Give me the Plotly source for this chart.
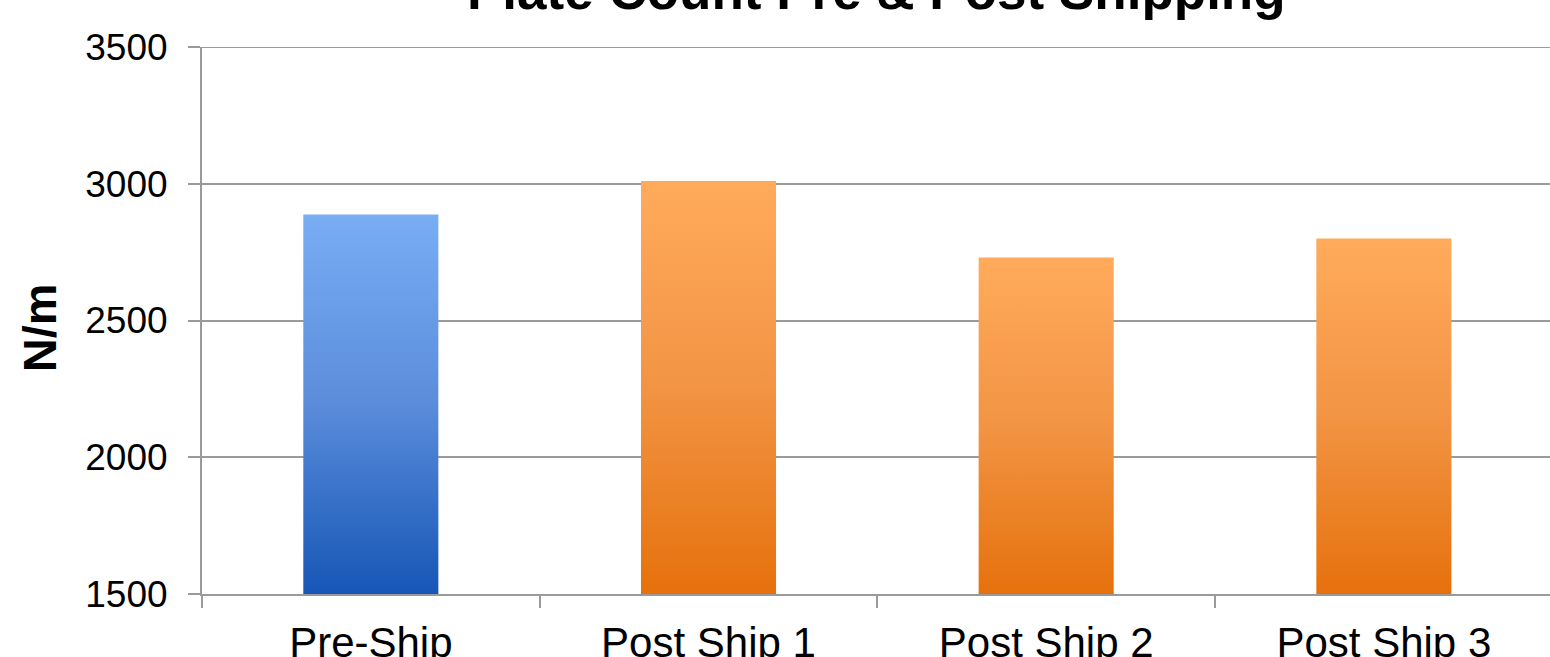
import plotly.graph_objects as go

# Plate count measurements before and after shipping
categories = ["Pre-Ship", "Post Ship 1", "Post Ship 2", "Post Ship 3"]
values = [2888, 3010, 2730, 2800]
y_ticks = [1500, 2000, 2500, 3000, 3500]

title_text = "Plate Count Pre & Post Shipping"
y_title = "N/m"

# vertical colour ramps (bottom -> top)
blue_ramp = [[0.0, "#1656b6"], [0.5, "#5a8cdb"], [1.0, "#78aef4"]]
orange_ramp = [[0.0, "#e6710c"], [0.5, "#f29444"], [1.0, "#ffab5b"]]
ramps = [blue_ramp, orange_ramp, orange_ramp, orange_ramp]

FONT = "Arial, 'Liberation Sans', sans-serif"
GRID = "#9a9a9a"
BAR_WIDTH = 0.4
Y_MIN, Y_MAX = y_ticks[0], y_ticks[-1]

fig = go.Figure()

for i, (cat, val, ramp) in enumerate(zip(categories, values, ramps)):
    left, right = i - BAR_WIDTH / 2, i + BAR_WIDTH / 2
    fig.add_trace(go.Scatter(
        x=[left, right, right, left, left],
        y=[Y_MIN, Y_MIN, val, val, Y_MIN],
        mode="lines",
        fill="toself",
        line=dict(width=0, color="rgba(0,0,0,0)"),
        fillgradient=dict(type="vertical", colorscale=ramp),
        name=cat,
        hoveron="fills",
        text=f"{cat}: {val}",
        hoverinfo="text",
        showlegend=False,
    ))

fig.update_layout(
    width=1550,
    height=657,
    margin=dict(l=202, r=0, t=47, b=63),
    paper_bgcolor="white",
    plot_bgcolor="white",
    font=dict(family=FONT, color="black"),
    xaxis=dict(
        range=[-0.5, 3.492],
        automargin=False,
        tickmode="array",
        tickvals=list(range(len(categories))),
        ticktext=categories,
        ticks="",
        tickfont=dict(size=42, family=FONT, color="black"),
        ticklabelstandoff=11,
        showgrid=False,
        showline=True,
        linecolor=GRID,
        linewidth=2,
        zeroline=False,
        minor=dict(
            tickmode="array",
            tickvals=[i - 0.5 for i in range(len(categories) + 1)],
            ticks="outside",
            ticklen=12,
            tickwidth=2,
            tickcolor=GRID,
            showgrid=False,
        ),
    ),
    yaxis=dict(
        range=[Y_MIN, Y_MAX],
        automargin=False,
        tickmode="array",
        tickvals=y_ticks,
        ticktext=[str(t) for t in y_ticks],
        ticks="outside",
        ticklen=12,
        tickwidth=2,
        tickcolor=GRID,
        tickfont=dict(size=37, family=FONT, color="black"),
        ticklabelstandoff=13,
        showgrid=True,
        gridcolor=GRID,
        gridwidth=2,
        showline=True,
        linecolor=GRID,
        linewidth=2,
        zeroline=False,
    ),
    shapes=[
        # top gridline at the upper end of the value axis
        dict(type="line", xref="paper", yref="y",
             x0=0, x1=1, y0=Y_MAX, y1=Y_MAX,
             line=dict(color=GRID, width=2), layer="below"),
    ],
    annotations=[
        dict(
            text=f"<b>{title_text}</b>",
            xref="paper", yref="paper",
            x=0.5, y=1.1025,
            xanchor="center", yanchor="middle",
            showarrow=False,
            font=dict(size=53, family=FONT, color="black"),
        ),
        dict(
            text=f"<b>{y_title}</b>",
            xref="paper", yref="paper",
            x=-0.1205, y=0.487,
            xanchor="center", yanchor="middle",
            textangle=-90,
            showarrow=False,
            font=dict(size=47, family=FONT, color="black"),
        ),
    ],
)

fig.write_html("out.html")
